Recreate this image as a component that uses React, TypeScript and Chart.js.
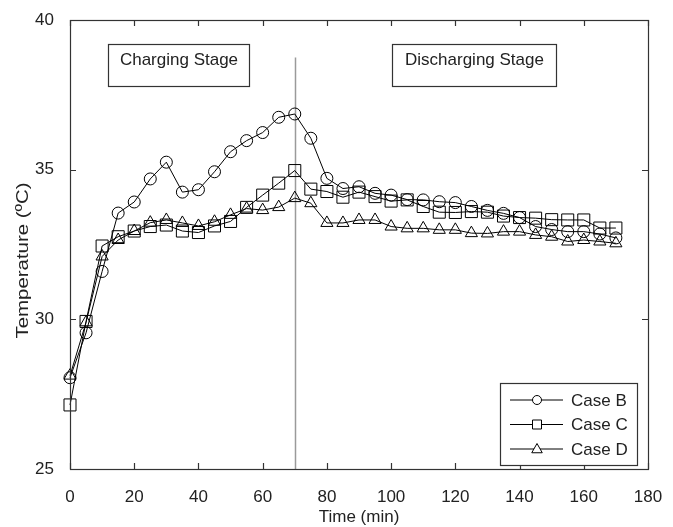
import { useEffect, useRef } from "react";
import { Chart, registerables } from "chart.js";

Chart.register(...registerables);

// Sampling times (min)
const timeMin = [
  0, 5, 10, 15, 20, 25, 30, 35, 40, 45, 50, 55, 60, 65, 70, 75, 80, 85,
  90, 95, 100, 105, 110, 115, 120, 125, 130, 135, 140, 145, 150, 155, 160, 165, 170,
];

// Temperatures (°C) for each case
const caseB = [
  28.05, 29.55, 31.6, 33.55, 33.92, 34.69, 35.25, 34.25, 34.33, 34.93, 35.6, 35.97,
  36.24, 36.75, 36.86, 36.05, 34.71, 34.37, 34.43, 34.21, 34.15, 34.0, 33.99, 33.93,
  33.9, 33.77, 33.64, 33.54, 33.4, 33.1, 33.0, 32.93, 32.93, 32.85, 32.72,
];
const caseC = [
  27.14, 29.93, 32.45, 32.76, 32.95, 33.1, 33.15, 32.95, 32.9, 33.12, 33.27, 33.74,
  34.15, 34.55, 34.97, 34.35, 34.27, 34.08, 34.25, 34.1, 33.95, 33.99, 33.77, 33.58,
  33.57, 33.6, 33.58, 33.45, 33.4, 33.38, 33.33, 33.32, 33.32, 33.05, 33.05,
];
const caseD = [
  28.12, 29.9, 32.1, 32.65, 32.95, 33.23, 33.32, 33.22, 33.12, 33.26, 33.49, 33.7,
  33.65, 33.75, 34.05, 33.88, 33.22, 33.22, 33.32, 33.32, 33.1, 33.04, 33.04, 32.99,
  32.99, 32.88, 32.87, 32.93, 32.93, 32.82, 32.76, 32.6, 32.65, 32.6, 32.54,
];

const seriesNames = ["Case B", "Case C", "Case D"];
const seriesStyles = ["circle", "rect", "triangle"];
const xTicks = [0, 20, 40, 60, 80, 100, 120, 140, 160, 180];
const yTicks = [25, 30, 35, 40];

const switchTime = 70; // end of charging
const switchLineTop = 38.75;
const stageLabels = ["Charging Stage", "Discharging Stage"];
// [xLeft, xRight, yTop, yBottom] in data units
const stageBoxes = [
  [11.8, 55.7, 39.2, 37.8],
  [100.3, 151.3, 39.2, 37.8],
];

const FAMILY = "'Liberation Sans', Arial, sans-serif";
const FONT = `17px ${FAMILY}`;
const TEXT = "#222";
const FRAME = "#333";

function drawMarker(ctx: CanvasRenderingContext2D, style: string, x: number, y: number, r: number) {
  ctx.beginPath();
  if (style === "circle") {
    ctx.arc(x, y, r, 0, Math.PI * 2);
  } else if (style === "rect") {
    ctx.rect(x - r, y - r, 2 * r, 2 * r);
  } else {
    ctx.moveTo(x, y - r * 1.1);
    ctx.lineTo(x + r * 1.05, y + r * 0.75);
    ctx.lineTo(x - r * 1.05, y + r * 0.75);
    ctx.closePath();
  }
  ctx.fillStyle = "#fff";
  ctx.fill();
  ctx.stroke();
}

const decorations = {
  id: "decorations",
  beforeDatasetsDraw(chart: any) {
    const { ctx, scales } = chart;
    const x = scales.x;
    const y = scales.y;
    ctx.save();
    ctx.strokeStyle = "#9a9a9a";
    ctx.lineWidth = 1.5;
    const px = Math.round(x.getPixelForValue(switchTime)) + 0.5;
    ctx.beginPath();
    ctx.moveTo(px, y.getPixelForValue(switchLineTop));
    ctx.lineTo(px, y.getPixelForValue(25));
    ctx.stroke();
    ctx.restore();
  },
  afterDraw(chart: any) {
    const { ctx, chartArea: a, scales } = chart;
    const x = scales.x;
    const y = scales.y;
    ctx.save();

    // frame
    ctx.strokeStyle = FRAME;
    ctx.lineWidth = 1.2;
    ctx.strokeRect(Math.round(a.left) + 0.5, Math.round(a.top) + 0.5, Math.round(a.right - a.left), Math.round(a.bottom - a.top));

    // inward ticks
    const tl = 6;
    ctx.beginPath();
    xTicks.forEach((v) => {
      const p = Math.round(x.getPixelForValue(v)) + 0.5;
      ctx.moveTo(p, a.bottom);
      ctx.lineTo(p, a.bottom - tl);
      ctx.moveTo(p, a.top);
      ctx.lineTo(p, a.top + tl);
    });
    yTicks.forEach((v) => {
      const p = Math.round(y.getPixelForValue(v)) + 0.5;
      ctx.moveTo(a.left, p);
      ctx.lineTo(a.left + tl, p);
      ctx.moveTo(a.right, p);
      ctx.lineTo(a.right - tl, p);
    });
    ctx.stroke();

    // stage annotation boxes
    ctx.font = FONT;
    ctx.fillStyle = TEXT;
    ctx.textAlign = "center";
    ctx.textBaseline = "middle";
    stageBoxes.forEach((b, i) => {
      const l = Math.round(x.getPixelForValue(b[0])) + 0.5;
      const r = Math.round(x.getPixelForValue(b[1])) + 0.5;
      const t = Math.round(y.getPixelForValue(b[2])) + 0.5;
      const bt = Math.round(y.getPixelForValue(b[3])) + 0.5;
      ctx.fillStyle = "#fff";
      ctx.fillRect(l, t, r - l, bt - t);
      ctx.strokeStyle = FRAME;
      ctx.lineWidth = 1.2;
      ctx.strokeRect(l, t, r - l, bt - t);
      ctx.fillStyle = TEXT;
      ctx.fillText(stageLabels[i], (l + r) / 2, t + 16);
    });

    // legend box
    const lx0 = a.right - 148;
    const lx1 = a.right - 11;
    const ly0 = a.bottom - 86;
    const ly1 = a.bottom - 4;
    ctx.fillStyle = "#fff";
    ctx.fillRect(lx0, ly0, lx1 - lx0, ly1 - ly0);
    ctx.strokeStyle = FRAME;
    ctx.lineWidth = 1.2;
    ctx.strokeRect(Math.round(lx0) + 0.5, Math.round(ly0) + 0.5, Math.round(lx1 - lx0), Math.round(ly1 - ly0));
    seriesNames.forEach((name, i) => {
      const ry = ly0 + 17 + i * 24.5;
      ctx.strokeStyle = "#000";
      ctx.lineWidth = 1;
      ctx.beginPath();
      ctx.moveTo(lx0 + 10, ry);
      ctx.lineTo(lx0 + 63, ry);
      ctx.stroke();
      drawMarker(ctx, seriesStyles[i], lx0 + 37, ry, seriesStyles[i] === "triangle" ? 5 : 4.5);
      ctx.fillStyle = TEXT;
      ctx.textAlign = "left";
      ctx.textBaseline = "middle";
      ctx.fillText(name, lx0 + 71, ry + 1);
    });

    // axis titles
    ctx.fillStyle = TEXT;
    ctx.textAlign = "center";
    ctx.textBaseline = "middle";
    ctx.fillText("Time (min)", (a.left + a.right) / 2, 517);
    ctx.translate(23, (a.top + a.bottom) / 2 + 16);
    ctx.rotate(-Math.PI / 2);
    ctx.scale(1.2, 1);
    ctx.fillText("Temperature (ºC)", 0, 0);
    ctx.restore();
  },
};

export default function App() {
  const canvasRef = useRef<HTMLCanvasElement | null>(null);

  useEffect(() => {
    const canvas = canvasRef.current;
    if (!canvas) return;
    const series = [caseB, caseC, caseD];
    const radii = [6, 8.5, 7];
    const chart = new Chart(canvas, {
      type: "line",
      data: {
        datasets: series.map((vals, i) => ({
          label: seriesNames[i],
          data: vals.map((v, k) => ({ x: timeMin[k], y: v })),
          borderColor: "#000",
          borderWidth: 1,
          backgroundColor: "rgba(0,0,0,0)",
          pointStyle: seriesStyles[i] as any,
          pointRadius: radii[i],
          pointBorderColor: "#000",
          pointBorderWidth: 1,
          pointBackgroundColor: "rgba(255,255,255,0)",
          fill: false,
          tension: 0,
          clip: false as any,
        })),
      },
      options: {
        responsive: false,
        animation: false,
        devicePixelRatio: 1,
        layout: { padding: { top: 20, right: 25, left: 0, bottom: 0 } },
        plugins: {
          legend: { display: false },
          tooltip: { enabled: false },
        },
        scales: {
          x: {
            type: "linear",
            min: 0,
            max: 180,
            grid: { display: false },
            border: { display: false },
            ticks: {
              stepSize: 20,
              padding: 10,
              color: TEXT,
              font: { family: FAMILY, size: 17 },
              maxRotation: 0,
            },
            afterFit(scale: any) {
              scale.height = 58;
              scale.paddingLeft = 0;
              scale.paddingRight = 0;
            },
          },
          y: {
            type: "linear",
            min: 25,
            max: 40,
            grid: { display: false },
            border: { display: false },
            ticks: {
              stepSize: 5,
              padding: 8,
              color: TEXT,
              font: { family: FAMILY, size: 17 },
            },
            afterFit(scale: any) {
              scale.width = 70;
              scale.paddingTop = 0;
              scale.paddingBottom = 0;
            },
          },
        },
      },
      plugins: [decorations],
    });
    return () => chart.destroy();
  }, []);

  return (
    <div style={{ position: "fixed", left: 0, top: 0, width: 673, height: 527, background: "#fff" }}>
      <canvas ref={canvasRef} width={673} height={527} />
    </div>
  );
}
